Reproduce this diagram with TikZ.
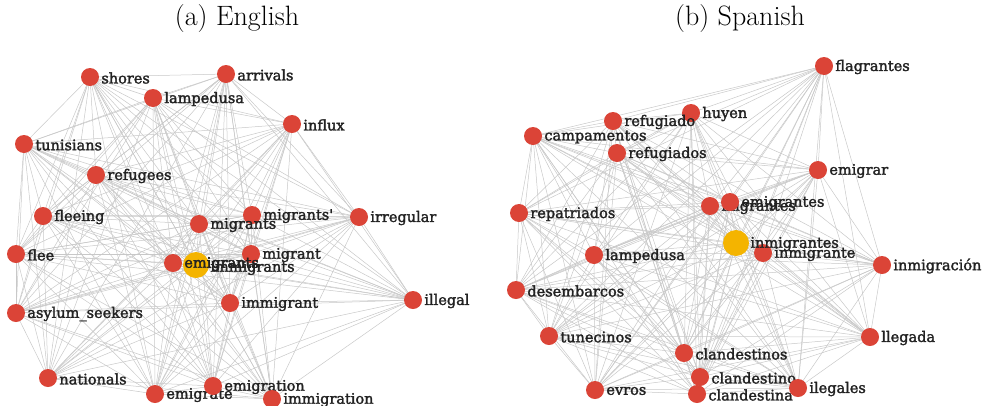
\documentclass[tikz,border=0pt]{standalone}
\usepackage{fontspec}
\newfontfamily\labfont[FakeBold=2]{DejaVu Serif}
\pgfdeclarelayer{edges}
\pgfsetlayers{edges,main}
\definecolor{nred}{HTML}{DB4437}
\definecolor{nyel}{HTML}{F4B400}
\definecolor{edgec}{HTML}{C8C8C8}
\definecolor{labc}{HTML}{222222}
\begin{document}
\begin{tikzpicture}[x=1pt,y=-1pt,
  dotnode/.style={circle,fill=nred,minimum size=18pt,inner sep=0pt},
  hubnode/.style={circle,fill=nyel,minimum size=26pt,inner sep=0pt},
  wordlab/.style={anchor=west,inner sep=0pt,text=labc,font=\labfont\fontsize{14.5}{14.5}\selectfont},
  edgeline/.style={draw=edgec,line width=0.5pt},
  titletext/.style={font=\fontsize{28}{32}\selectfont}]
\useasboundingbox (0,0) rectangle (983,405);
\node[titletext] (ta) at (237,19) {(a) English};
\node[titletext] (tb) at (740,19) {(b) Spanish};
% English nodes
\foreach \n/\x/\y/\t in {
  shores/90/77/shores, arrivals/226/74/arrivals, lampedusa/153/98/lampedusa,
  influx/292/124/influx, tunisians/24/144/tunisians, refugees/96/175/refugees,
  fleeing/43/216/fleeing, migrantsq/252/215/migrants', migrants/199/224/migrants,
  irregular/359/217/irregular, flee/16/254/flee, emigrants/173/263/emigrants,
  migrant/251/254/migrant, immigrant/230/303/immigrant, illegal/413/300/illegal,
  asylum/16/313/asylum\_seekers, nationals/48/378/nationals, emigrate/155/394/emigrate,
  emigration/213/386/emigration, immigration/272/399/immigration}
  {\node[dotnode] (e-\n) at (\x,\y) {};
   \node[wordlab] (le-\n) at ([xshift=2pt,yshift=-1pt]e-\n.east) {\t};}
\node[hubnode] (e-immigrants) at (196,265) {};
\node[wordlab] (le-immigrants) at ([xshift=1pt,yshift=-3pt]e-immigrants.east) {immigrants};
\node[wordlab] (le-emigrants2) at ([xshift=2pt,yshift=-1pt]e-emigrants.east) {emigrants};
% Spanish nodes
\foreach \n/\x/\y/\t in {
  flagrantes/824/66/flagrantes, huyen/691/113/huyen, refugiado/613/121/refugiado,
  campamentos/533/136/campamentos, refugiados/617/153/refugiados, emigrar/818/170/emigrar,
  migrantes/710/206/migrantes, emigrantes/730/202/emigrantes, repatriados/519/213/repatriados,
  inmigrante/763/253/inmigrante, lampedusa/594/255/lampedusa, inmigracion/882/265/inmigración,
  desembarcos/516/290/desembarcos, tunecinos/549/336/tunecinos, llegada/870/337/llegada,
  clandestinos/684/353/clandestinos, clandestino/700/377/clandestino, evros/595/390/evros,
  clandestina/697/394/clandestina, ilegales/798/388/ilegales}
  {\node[dotnode] (s-\n) at (\x,\y) {};
   \node[wordlab] (ls-\n) at ([xshift=2pt,yshift=-1pt]s-\n.east) {\t};}
\node[hubnode] (s-inmigrantes) at (736,243) {};
\node[wordlab] (ls-inmigrantes) at ([xshift=1pt,yshift=-1pt]s-inmigrantes.east) {inmigrantes};
% edges
\begin{pgfonlayer}{edges}
\foreach \a [count=\i] in {shores,arrivals,lampedusa,influx,tunisians,refugees,fleeing,migrantsq,migrants,irregular,flee,emigrants,immigrants,migrant,immigrant,illegal,asylum,nationals,emigrate,emigration,immigration}
  \foreach \b [count=\j] in {shores,arrivals,lampedusa,influx,tunisians,refugees,fleeing,migrantsq,migrants,irregular,flee,emigrants,immigrants,migrant,immigrant,illegal,asylum,nationals,emigrate,emigration,immigration}
    {\ifnum\j>\i \draw[edgeline] (e-\a.center) -- (e-\b.center);\fi}
\foreach \a [count=\i] in {flagrantes,huyen,refugiado,campamentos,refugiados,emigrar,migrantes,emigrantes,repatriados,inmigrantes,inmigrante,lampedusa,inmigracion,desembarcos,tunecinos,llegada,clandestinos,clandestino,evros,clandestina,ilegales}
  \foreach \b [count=\j] in {flagrantes,huyen,refugiado,campamentos,refugiados,emigrar,migrantes,emigrantes,repatriados,inmigrantes,inmigrante,lampedusa,inmigracion,desembarcos,tunecinos,llegada,clandestinos,clandestino,evros,clandestina,ilegales}
    {\ifnum\j>\i \draw[edgeline] (s-\a.center) -- (s-\b.center);\fi}
\end{pgfonlayer}
\end{tikzpicture}
\end{document}
